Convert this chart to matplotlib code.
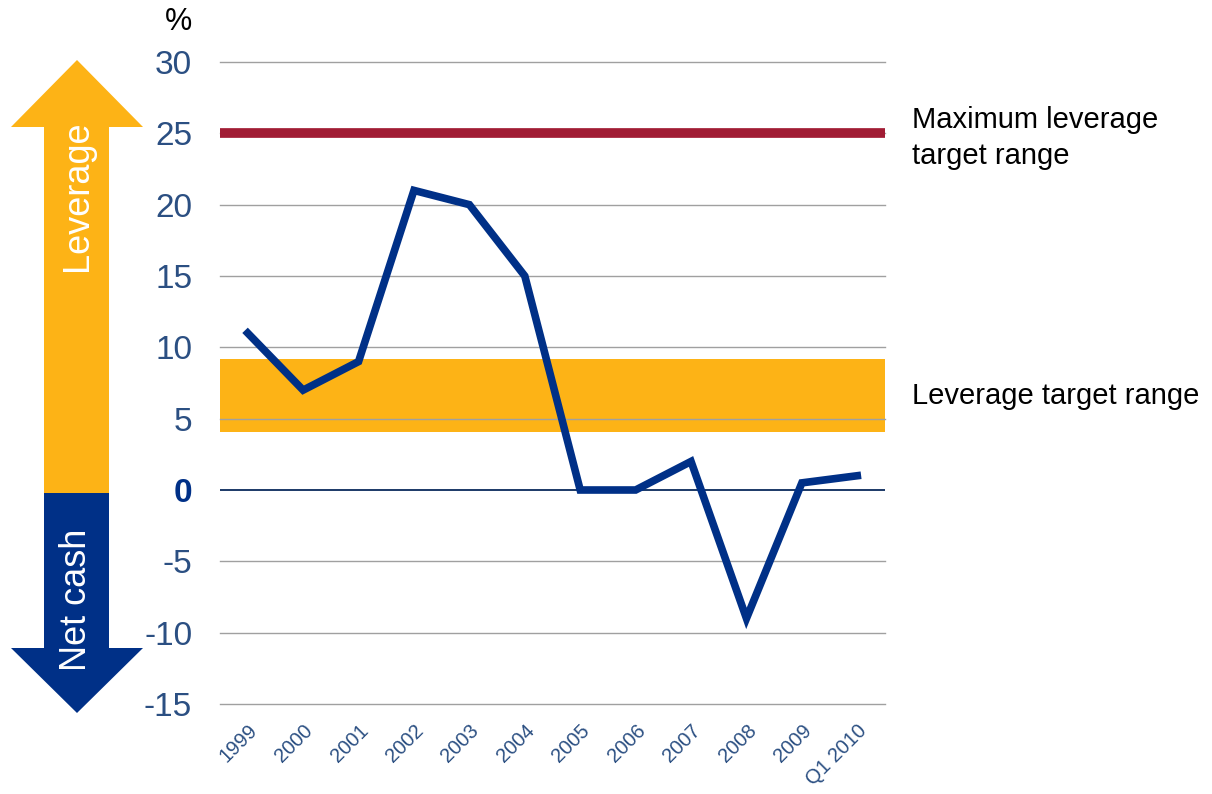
import matplotlib
matplotlib.use("Agg")
import matplotlib.pyplot as plt
from matplotlib.patches import Polygon

plt.rcParams['font.family'] = ['Liberation Sans', 'DejaVu Sans']

periods = ["1999", "2000", "2001", "2002", "2003", "2004", "2005", "2006",
           "2007", "2008", "2009", "Q1 2010"]
gearing = [11, 7, 9, 21, 20, 15, 0, 0, 2, -9, 0.5, 1]
target_low, target_high = 4.1, 9.2
max_target = 25
yticks = [30, 25, 20, 15, 10, 5, 0, -5, -10, -15]

navy = "#003087"
tick_blue = "#2B4F82"
orange = "#FDB316"
maroon = "#A11C34"

W, H = 1212, 794
fig = plt.figure(figsize=(W / 100, H / 100), dpi=100)
ax = fig.add_axes([220 / W, 1 - 704 / H, 665 / W, 642 / H])

x = list(range(len(periods)))
ax.set_xlim(-0.5, len(periods) - 0.5)
ax.set_ylim(-15, 30)

ax.axhspan(target_low, target_high, color=orange, zorder=1, lw=0)
for v in yticks:
    if v != 0:
        ax.axhline(v, color="#A0A0A0", lw=1, zorder=2, clip_on=False)
ax.axhline(0, color="#0A2A5C", lw=1.3, zorder=2)
ax.axhline(max_target, color=maroon, lw=7, zorder=3)
ax.plot(x, gearing, color=navy, lw=5.5, zorder=4, solid_joinstyle="miter")

for s in ax.spines.values():
    s.set_visible(False)
ax.tick_params(length=0)
ax.set_yticks(yticks)
ax.set_yticklabels([str(v) for v in yticks], fontsize=24, color=tick_blue)
for lab in ax.get_yticklabels():
    if lab.get_text() == "0":
        lab.set_fontweight("bold")
        lab.set_color(navy)
ax.tick_params(axis="y", pad=20)
ax.set_xticks(x)
ax.set_xticklabels(periods, rotation=45, ha="right", rotation_mode="anchor",
                   fontsize=14.5, color=tick_blue)
ax.tick_params(axis="x", pad=12)

fig.text(178 / W, 1 - 22 / H, "%", fontsize=22, ha="center", va="center")
fig.text(912 / W, 1 - 120 / H, "Maximum leverage", fontsize=21, va="center")
fig.text(912 / W, 1 - 156 / H, "target range", fontsize=21, va="center")
fig.text(912 / W, 1 - 396 / H, "Leverage target range", fontsize=21, va="center")

# side arrows drawn in pixel space
ov = fig.add_axes([0, 0, 1, 1], zorder=-1)
ov.set_xlim(0, W)
ov.set_ylim(H, 0)
ov.axis("off")
up = [(44, 493), (44, 127), (11, 127), (77, 60), (143, 127), (109, 127), (109, 493)]
down = [(44, 493), (44, 648), (11, 648), (77, 713), (143, 648), (109, 648), (109, 493)]
ov.add_patch(Polygon(up, closed=True, color=orange, lw=0))
ov.add_patch(Polygon(down, closed=True, color=navy, lw=0))
ov.text(77, 196, "Leverage", rotation=90, color="white", fontsize=26,
        ha="center", va="center")
ov.text(77, 600, "Net cash", rotation=90, color="white", fontsize=26,
        ha="center", va="center")

fig.savefig("out.png", dpi=100)
